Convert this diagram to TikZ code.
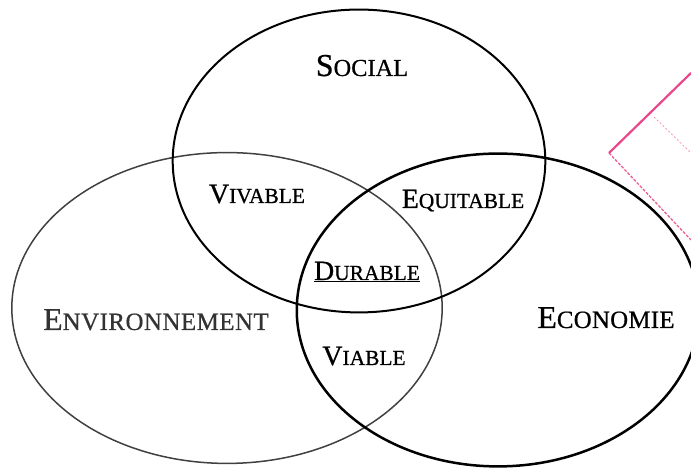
\documentclass[tikz,border=0pt]{standalone}
\usepackage{fontspec}
\setmainfont{Liberation Serif}
\usetikzlibrary{positioning}
\usetikzlibrary{shapes.geometric}

% fake small capitals: first letter at the node size, the rest at \scsize
\newcommand{\petitescaps}[2]{#1{\fontsize{\scsize}{\scsize}\selectfont #2}}

\definecolor{tampon}{RGB}{228,40,118}

\begin{document}
\begin{tikzpicture}[
        x=1bp, y=1bp,
        pole/.style={ellipse, draw=black, inner sep=0pt},
        bigword/.style={anchor=base, inner sep=0pt, font=\fontsize{32}{32}\selectfont\addfontfeatures{FakeBold=0.6}\def\scsize{24.5}},
        smallword/.style={anchor=base, inner sep=0pt, font=\fontsize{28}{28}\selectfont\addfontfeatures{FakeBold=0.8}\def\scsize{21.5}}
    ]
    \useasboundingbox (0,0) rectangle (691,468);

        % the three spheres
        \node [pole, line width=1.5bp, draw=black!75, minimum width=432, minimum height=312] (Env) at (227,160) {};
        \node [pole, line width=2bp, minimum width=374, minimum height=304] (Social) at (359,307) {};
        \node [pole, line width=2.5bp, minimum width=404, minimum height=314] (Eco) at (498,158) {};

        % names of the spheres
        \node [bigword] (SocialName) at (362,392) {\petitescaps{S}{OCIAL}};
        \node [bigword, text=black!80, font=\fontsize{32}{32}\selectfont\addfontfeatures{LetterSpace=2,FakeBold=0.6}\def\scsize{25}] (EnvName) at (156,138) {\petitescaps{E}{NVIRONNEMENT}};
        \node [bigword, font=\fontsize{32}{32}\selectfont\addfontfeatures{LetterSpace=1,FakeBold=0.6}\def\scsize{25}] (EcoName) at (606,140) {\petitescaps{E}{CONOMIE}};

        % overlaps
        \node [smallword] (Vivable) at (257,265) {\petitescaps{V}{IVABLE}};
        \node [smallword] (Equitable) at (463,260) {\petitescaps{E}{QUITABLE}};
        \node [smallword] (Durable) at (367,188) {\underline{\petitescaps{D}{URABLE}}};
        \node [smallword] (Viable) at (364,103) {\petitescaps{V}{IABLE}};

        % stamp in the corner
        \coordinate (Stamp) at (609,315);
        \draw [tampon, line width=2.2bp, opacity=0.85] (Stamp) -- (691,395);
        \draw [tampon, line width=1.3bp, opacity=0.75, dash pattern=on 3bp off 1.5bp] (Stamp) -- (691,228);
        \draw [tampon, line width=0.9bp, opacity=0.45, dash pattern=on 2bp off 2bp] (654,351) -- (691,315);

    \end{tikzpicture}
\end{document}
